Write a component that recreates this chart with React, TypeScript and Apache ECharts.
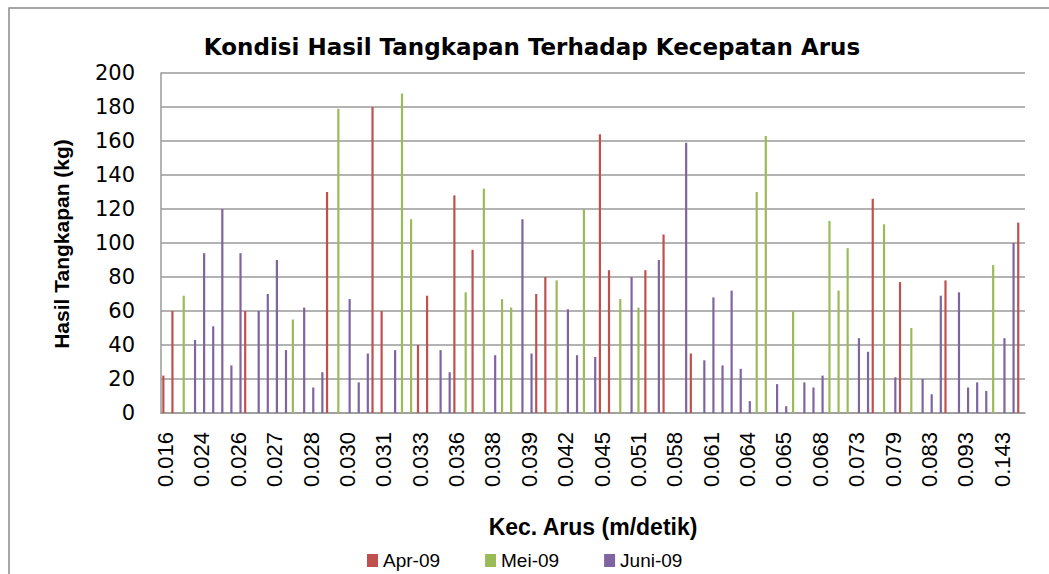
import React, { useEffect, useRef } from "react";
import * as echarts from "echarts";

// Visible tick labels (Excel shows one label every 4th category)
const tickLabels = [
  "0.016", "0.024", "0.026", "0.027", "0.028", "0.030", "0.031", "0.033",
  "0.036", "0.038", "0.039", "0.042", "0.045", "0.051", "0.058", "0.061",
  "0.064", "0.065", "0.068", "0.073", "0.079", "0.083", "0.093", "0.143",
];
const categoryCount = 95;
const labelStep = 4;
const categories = Array.from({ length: categoryCount }, (_, i) =>
  i % labelStep === 0 ? tickLabels[i / labelStep] : ""
);

const seriesNames = ["Apr-09", "Mei-09", "Juni-09"];
const seriesColors = ["#C0504D", "#9BBB59", "#8064A2"];

const aprValues = [
  22, 60, null, null, null, null, null, null, null, 60,
  null, null, null, null, null, null, null, null, 130, null,
  null, null, null, 180, 60, null, null, null, 40, 69,
  null, null, 128, null, 96, null, null, null, null, null,
  null, 70, 80, null, null, null, null, null, 164, 84,
  null, null, null, 84, null, 105, null, null, 35, null,
  null, null, null, null, null, null, null, null, null, null,
  null, null, null, null, null, null, null, null, 126, null,
  null, 77, null, null, null, null, 78, null, null, null,
  null, null, null, null, 112,
];

const meiValues = [
  null, null, 69, null, null, null, null, null, null, null,
  null, null, null, null, 55, null, null, null, null, 179,
  null, null, null, null, null, null, 188, 114, null, null,
  null, null, null, 71, null, 132, null, 67, 62, null,
  null, null, null, 78, null, null, 120, null, null, null,
  67, null, 62, null, null, null, null, null, null, null,
  null, null, null, null, null, 130, 163, null, null, 60,
  null, null, null, 113, 72, 97, null, null, null, 111,
  null, null, 50, null, null, null, null, null, null, null,
  null, 87, null, null, null,
];

const juniValues = [
  null, null, null, 43, 94, 51, 120, 28, 94, null,
  60, 70, 90, 37, null, 62, 15, 24, null, null,
  67, 18, 35, null, null, 37, null, null, null, null,
  37, 24, null, null, null, null, 34, null, null, 114,
  35, null, null, null, 61, 34, null, 33, null, null,
  null, 80, null, null, 90, null, null, 159, null, 31,
  68, 28, 72, 26, 7, null, null, 17, 4, null,
  18, 15, 22, null, null, null, 44, 36, null, null,
  21, null, null, 20, 11, 69, null, 71, 15, 18,
  13, null, 44, 100, null,
];

const allValues = [aprValues, meiValues, juniValues];

export default function App() {
  const ref = useRef<HTMLDivElement>(null);

  useEffect(() => {
    if (!ref.current) return;
    const chart = echarts.init(ref.current, null, { renderer: "svg" });
    const gridColor = "#9a9a9a";
    chart.setOption({
      animation: false,
      backgroundColor: "#ffffff",
      grid: { left: 161, top: 73, width: 864, height: 340, containLabel: false },
      legend: {
        data: seriesNames,
        top: 546,
        left: 362,
        icon: "rect",
        itemWidth: 11,
        itemHeight: 13,
        itemGap: 45,
        textStyle: { fontFamily: "Liberation Sans", fontSize: 19, color: "#000" },
      },
      xAxis: {
        type: "category",
        data: categories,
        boundaryGap: true,
        axisLine: { show: true, lineStyle: { color: gridColor, width: 1.5 } },
        axisTick: { show: false },
        splitLine: { show: false },
        axisLabel: {
          interval: labelStep - 1,
          rotate: 90,
          margin: 19,
          fontFamily: "Liberation Sans",
          fontSize: 22,
          color: "#000",
        },
      },
      yAxis: {
        type: "value",
        min: 0,
        max: 200,
        interval: 20,
        axisLine: { show: true, lineStyle: { color: gridColor, width: 1.5 } },
        axisTick: { show: false },
        splitLine: { show: true, lineStyle: { color: gridColor, width: 1.5 } },
        axisLabel: {
          margin: 26,
          fontFamily: "DejaVu Sans",
          fontSize: 21,
          color: "#000",
        },
      },
      series: seriesNames.map((name, k) => ({
        name,
        type: "bar",
        data: allValues[k],
        barWidth: 2.2,
        barGap: "0%",
        itemStyle: { color: seriesColors[k] },
      })),
      graphic: [
        {
          type: "rect",
          shape: { x: 9, y: 8, width: 1200, height: 800 },
          style: { fill: "none", stroke: "#8a8a8a", lineWidth: 1.5 },
          silent: true,
        },
        {
          type: "text",
          x: 532,
          y: 47,
          style: {
            text: "Kondisi Hasil Tangkapan Terhadap Kecepatan Arus",
            font: 'bold 23px "DejaVu Sans"',
            fill: "#000",
            align: "center",
            verticalAlign: "middle",
          },
        },
        {
          type: "text",
          x: 61,
          y: 244,
          rotation: Math.PI / 2,
          style: {
            text: "Hasil Tangkapan (kg)",
            font: 'bold 21px "Liberation Sans"',
            fill: "#000",
            align: "center",
            verticalAlign: "middle",
          },
        },
        {
          type: "text",
          x: 593,
          y: 527,
          style: {
            text: "Kec. Arus (m/detik)",
            font: 'bold 23px "Liberation Sans"',
            fill: "#000",
            align: "center",
            verticalAlign: "middle",
          },
        },
      ],
    });
    return () => chart.dispose();
  }, []);

  return (
    <div
      ref={ref}
      style={{ position: "fixed", left: 0, top: 0, width: 1049, height: 574 }}
    />
  );
}
